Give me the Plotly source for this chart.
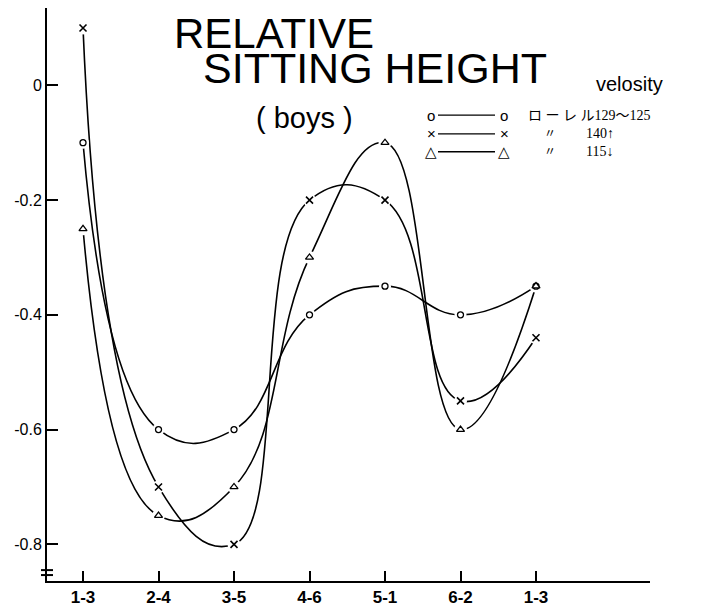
import plotly.graph_objects as go

# Growth-period labels along the horizontal axis
periods = ["1-3", "2-4", "3-5", "4-6", "5-1", "6-2", "1-3"]

# Relative sitting-height velocity, by Laurel index group (boys)
laurel_mid = [-0.10, -0.60, -0.60, -0.40, -0.35, -0.40, -0.35]   # ローレル 129〜125
laurel_high = [0.10, -0.70, -0.80, -0.20, -0.20, -0.55, -0.44]   # 〃 140↑
laurel_low = [-0.25, -0.75, -0.70, -0.30, -0.10, -0.60, -0.35]   # 〃 115↓

y_ticks = [0, -0.2, -0.4, -0.6, -0.8]
y_tick_text = ["0", "-0.2", "-0.4", "-0.6", "-0.8"]

W, H = 710, 615
L, R, T, B = 47, 60, 8, 29
PW, PH = W - L - R, H - T - B


def px(x):
    return (x - L) / PW


def py(y):
    return (H - B - y) / PH


xs = list(range(len(periods)))
series = [
    (laurel_mid, "circle", 6, 1.3),
    (laurel_high, "x-thin", 7, 1.6),
    (laurel_low, "triangle-up", 7, 1.3),
]

fig = go.Figure()

# smooth curves
for vals, sym, size, lw in series:
    fig.add_trace(go.Scatter(
        x=xs, y=vals, mode="lines",
        line=dict(color="black", width=1.6, shape="spline", smoothing=1.3),
        hoverinfo="skip", showlegend=False,
    ))

# white halos so the curves stop short of the point marks
for vals, sym, size, lw in series:
    fig.add_trace(go.Scatter(
        x=xs, y=vals, mode="markers",
        marker=dict(symbol="circle", size=size + 6, color="white",
                    line=dict(width=0)),
        hoverinfo="skip", showlegend=False,
    ))

# point marks
for vals, sym, size, lw in series:
    fig.add_trace(go.Scatter(
        x=xs, y=vals, mode="markers",
        marker=dict(symbol=sym, size=size, color="white",
                    line=dict(color="black", width=lw)),
        showlegend=False,
    ))

annotations = []


def text(x, y, s, size, xanchor="left", family="Liberation Sans", height=None):
    ann = dict(
        x=px(x), y=py(y), xref="paper", yref="paper", text=s,
        showarrow=False, xanchor=xanchor, yanchor="middle",
        font=dict(family=family, size=size, color="black"),
    )
    if height is not None:
        ann["height"] = height
    annotations.append(ann)


# headings
text(172, 33, "RELATIVE", 42, height=36)
text(201, 69, "SITTING HEIGHT", 43, height=36)
text(594, 85, "velosity", 20)
text(254, 119, "( boys )", 29)

# key
key_rows = [
    (116, "o", "ロ ー レ ル129〜125", None),
    (135, "×", "〃", "140↑"),
    (153, "△", "〃", "115↓"),
]
shapes = []
serif = "Liberation Serif, Noto Sans CJK JP"
for y, glyph, label, value in key_rows:
    text(431, y, glyph, 15, xanchor="center")
    text(504, y, glyph, 15, xanchor="center")
    shapes.append(dict(type="line", xref="paper", yref="paper",
                       x0=px(438), x1=px(495), y0=py(y), y1=py(y),
                       line=dict(color="black", width=1.3)))
    if value is None:
        text(526, y, label, 14, family=serif)
    else:
        text(550, y, label, 12, xanchor="center", family=serif)
        text(584, y, value, 14, family=serif)

# axis break on the vertical axis
for yb in (575, 580):
    shapes.append(dict(type="line", xref="paper", yref="paper",
                       x0=px(41), x1=px(53), y0=py(yb), y1=py(yb),
                       line=dict(color="black", width=2)))

fig.update_layout(
    width=W, height=H,
    margin=dict(l=L, r=R, t=T, b=B, pad=0),
    paper_bgcolor="white", plot_bgcolor="white",
    showlegend=False,
    annotations=annotations,
    shapes=shapes,
    xaxis=dict(
        range=[-0.477, 7.51], tickvals=xs, ticktext=periods,
        showline=True, linecolor="black", linewidth=2,
        ticks="inside", ticklen=10, tickwidth=2, tickcolor="black",
        showgrid=False, zeroline=False,
        tickfont=dict(family="Liberation Sans", size=17, color="black",
                      weight="bold"),
    ),
    yaxis=dict(
        range=[-0.8639, 0.1348], tickvals=y_ticks, ticktext=y_tick_text,
        showline=True, linecolor="black", linewidth=2,
        ticks="inside", ticklen=11, tickwidth=2, tickcolor="black",
        showgrid=False, zeroline=False,
        tickfont=dict(family="Liberation Sans", size=16, color="black"),
    ),
)

fig.write_html("out.html")
